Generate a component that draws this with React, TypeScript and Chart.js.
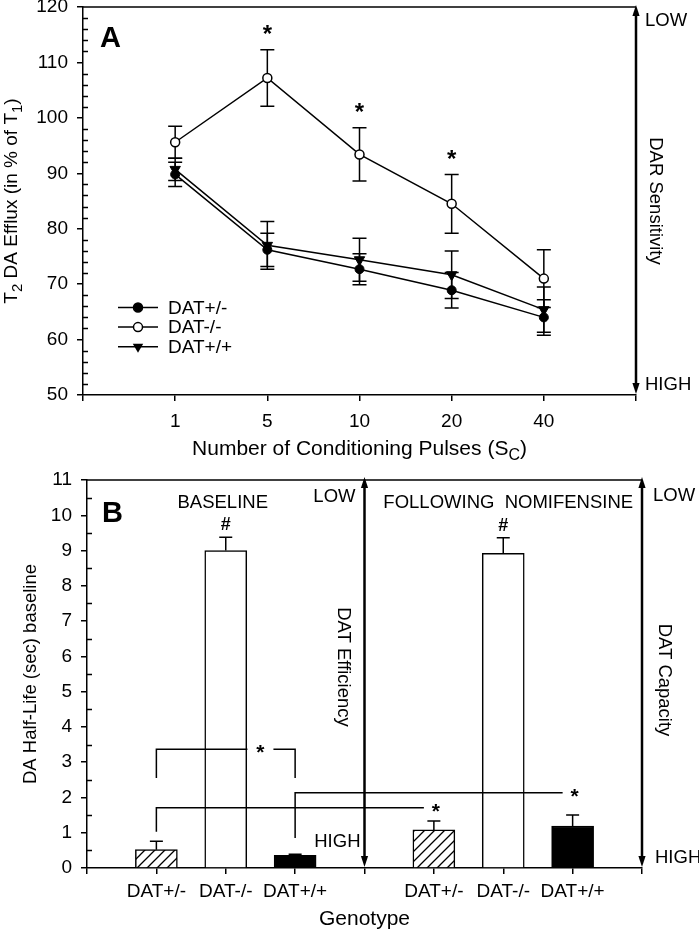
import React, { useEffect, useRef } from 'react';
import { Chart, registerables } from 'chart.js';

Chart.register(...registerables);

const FONT = '"Liberation Sans", Arial, Helvetica, sans-serif';
const INK = '#000000';

// ---------- Panel A data ----------
const pulseLabels = ['1', '5', '10', '20', '40'];
const seriesNames = ['DAT+/-', 'DAT-/-', 'DAT+/+'];
const hetMeans = [89.8, 76.2, 72.7, 68.9, 64.0];
const hetErr = [2.2, 3.0, 2.8, 3.2, 3.2];
const koMeans = [95.6, 107.2, 93.4, 84.5, 71.0];
const koErr = [2.9, 5.1, 4.8, 5.3, 5.2];
const wtMeans = [90.7, 77.0, 74.4, 71.7, 65.4];
const wtErr = [2.0, 4.3, 3.9, 4.3, 4.1];
const koSignificant = [false, true, true, true, false];
const yMinA = 50;
const yMaxA = 120;
const yStepA = 10;
const yMinorA = 2;

// ---------- Panel B data ----------
const genotypes = ['DAT+/-', 'DAT-/-', 'DAT+/+'];
const baselineMeans = [0.52, 9.0, 0.36];
const baselineErr = [0.24, 0.38, 0.03];
const nomifensineMeans = [1.08, 8.92, 1.19];
const nomifensineErr = [0.25, 0.44, 0.31];
const knockoutMarked = [false, true, false];
const yMinB = 0;
const yMaxB = 11;
const yStepB = 1;
const yMinorB = 0.5;
// significance brackets (slot indices on the genotype axis, values in sec)
const bracketFrom = [1, 1, 3];
const bracketTo = [3, 5, 7];
const bracketLegLow = [2.55, 1.03, 0.85];
const bracketLevel = [3.37, 1.71, 2.13];
const bracketStar = [2.5, 5, 7];
const bracketRightLeg = [true, false, false];

const slotLabels = ['', ...genotypes, '', ...genotypes, ''];
const slotMeans = [null, ...baselineMeans, null, ...nomifensineMeans, null];
const slotErr = [null, ...baselineErr, null, ...nomifensineErr, null];
const slotMarked = [false, ...knockoutMarked, false, ...knockoutMarked, false];

Chart.defaults.font.family = FONT;
Chart.defaults.color = INK;

const TICK_SIZE = 19;
const LABEL_SIZE = 18.5;

type Part = { t: string; sub?: boolean };

function drawRich(
  ctx: CanvasRenderingContext2D,
  parts: Part[],
  x: number,
  y: number,
  size: number,
  align: 'left' | 'center' | 'right' = 'left',
  rotate = 0,
  bold = false
) {
  ctx.save();
  ctx.translate(x, y);
  ctx.rotate(rotate);
  ctx.fillStyle = INK;
  ctx.textBaseline = 'alphabetic';
  ctx.textAlign = 'left';
  const fontFor = (p: Part) =>
    `${bold ? 'bold ' : ''}${p.sub ? Math.round(size * 0.78) : size}px ${FONT}`;
  let total = 0;
  const widths = parts.map((p) => {
    ctx.font = fontFor(p);
    const w = ctx.measureText(p.t).width;
    total += w;
    return w;
  });
  let cx = align === 'center' ? -total / 2 : align === 'right' ? -total : 0;
  parts.forEach((p, i) => {
    ctx.font = fontFor(p);
    ctx.fillText(p.t, cx, p.sub ? size * 0.24 : 0);
    cx += widths[i];
  });
  ctx.restore();
}

function drawCenteredGlyph(ctx: CanvasRenderingContext2D, ch: string, x: number, yc: number, font: string) {
  ctx.save();
  ctx.font = font;
  ctx.fillStyle = INK;
  ctx.textAlign = 'center';
  ctx.textBaseline = 'alphabetic';
  const m = ctx.measureText(ch);
  const base = yc + (m.actualBoundingBoxAscent - m.actualBoundingBoxDescent) / 2;
  ctx.fillText(ch, x, base);
  ctx.restore();
}

function drawArrow(ctx: CanvasRenderingContext2D, x: number, top: number, bottom: number) {
  const head = 11;
  const half = 3.6;
  ctx.save();
  ctx.strokeStyle = INK;
  ctx.fillStyle = INK;
  ctx.lineWidth = 2.5;
  ctx.beginPath();
  ctx.moveTo(x, top + head - 1);
  ctx.lineTo(x, bottom - head + 1);
  ctx.stroke();
  ctx.beginPath();
  ctx.moveTo(x, top);
  ctx.lineTo(x - half, top + head);
  ctx.lineTo(x + half, top + head);
  ctx.closePath();
  ctx.fill();
  ctx.beginPath();
  ctx.moveTo(x, bottom);
  ctx.lineTo(x - half, bottom - head);
  ctx.lineTo(x + half, bottom - head);
  ctx.closePath();
  ctx.fill();
  ctx.restore();
}

function drawMinorTicks(chart: any, min: number, max: number, minor: number, major: number) {
  const { ctx, chartArea, scales } = chart;
  ctx.save();
  ctx.strokeStyle = INK;
  ctx.lineWidth = 1.5;
  ctx.beginPath();
  const n = Math.round((max - min) / minor);
  for (let k = 0; k <= n; k++) {
    const v = min + k * minor;
    const r = (v - min) / major;
    if (Math.abs(r - Math.round(r)) < 1e-6) continue;
    const py = Math.round(scales.y.getPixelForValue(v)) + 0.5;
    ctx.moveTo(chartArea.left, py);
    ctx.lineTo(chartArea.left + 5, py);
  }
  ctx.stroke();
  ctx.restore();
}

function drawTopFrame(chart: any) {
  const { ctx, chartArea } = chart;
  ctx.save();
  ctx.strokeStyle = INK;
  ctx.lineWidth = 1.5;
  ctx.beginPath();
  ctx.moveTo(chartArea.left, chartArea.top);
  ctx.lineTo(chartArea.right, chartArea.top);
  ctx.stroke();
  ctx.restore();
}

const axisCommon = {
  grid: { drawOnChartArea: false, drawTicks: true, tickLength: 6, color: INK, lineWidth: 1.5 },
  border: { display: true, color: INK, width: 1.5 },
};

function configA(): any {
  const pointsOf = (arr: number[]) => arr.map((y, i) => ({ x: i + 1, y }));
  const panelA = {
    id: 'panelA',
    beforeDatasetsDraw(chart: any) {
      const { ctx, scales } = chart;
      const { x, y } = scales;
      ctx.save();
      ctx.strokeStyle = INK;
      ctx.lineWidth = 1.5;
      const series: [number[], number[]][] = [
        [hetMeans, hetErr],
        [koMeans, koErr],
        [wtMeans, wtErr],
      ];
      series.forEach(([m, e]) =>
        m.forEach((v, i) => {
          const px = x.getPixelForValue(i + 1);
          const t = y.getPixelForValue(v + e[i]);
          const b = y.getPixelForValue(v - e[i]);
          ctx.beginPath();
          ctx.moveTo(px, t);
          ctx.lineTo(px, b);
          ctx.moveTo(px - 7, t);
          ctx.lineTo(px + 7, t);
          ctx.moveTo(px - 7, b);
          ctx.lineTo(px + 7, b);
          ctx.stroke();
        })
      );
      ctx.restore();
    },
    afterDraw(chart: any) {
      const { ctx, chartArea, scales } = chart;
      const { x, y } = scales;
      drawTopFrame(chart);
      drawMinorTicks(chart, yMinA, yMaxA, yMinorA, yStepA);
      drawArrow(ctx, chartArea.right, chartArea.top - 2, chartArea.bottom - 1);

      // significance stars
      koSignificant.forEach((s, i) => {
        if (!s) return;
        const px = x.getPixelForValue(i + 1);
        const yc = y.getPixelForValue(koMeans[i] + koErr[i]) - 20;
        drawCenteredGlyph(ctx, '*', px, yc, `bold 24px ${FONT}`);
      });

      // panel letter and side labels
      drawRich(ctx, [{ t: 'A' }], chartArea.left + 17, chartArea.top + 40, 29, 'left', 0, true);
      drawRich(ctx, [{ t: 'LOW' }], chartArea.right + 9, chartArea.top + 19, LABEL_SIZE);
      drawRich(ctx, [{ t: 'HIGH' }], chartArea.right + 9, chartArea.bottom - 5, LABEL_SIZE);
      drawRich(
        ctx,
        [{ t: 'DAR Sensitivity' }],
        chartArea.right + 14,
        (chartArea.top + chartArea.bottom) / 2,
        LABEL_SIZE,
        'center',
        Math.PI / 2
      );

      // axis titles
      drawRich(
        ctx,
        [{ t: 'Number of Conditioning Pulses (S' }, { t: 'C', sub: true }, { t: ')' }],
        (chartArea.left + chartArea.right) / 2,
        chartArea.bottom + 60,
        21,
        'center'
      );
      drawRich(
        ctx,
        [{ t: 'T' }, { t: '2', sub: true }, { t: ' DA Efflux (in % of T' }, { t: '1', sub: true }, { t: ')' }],
        17,
        (chartArea.top + chartArea.bottom) / 2,
        19,
        'center',
        -Math.PI / 2
      );

      // legend
      const lx0 = 118;
      const lx1 = 158;
      const ltx = 168;
      const ly0 = 307.5;
      const ldy = 19.6;
      ctx.save();
      ctx.strokeStyle = INK;
      ctx.lineWidth = 1.5;
      seriesNames.forEach((name, i) => {
        const ly = ly0 + i * ldy;
        const mx = (lx0 + lx1) / 2;
        ctx.beginPath();
        ctx.moveTo(lx0, ly);
        ctx.lineTo(lx1, ly);
        ctx.stroke();
        ctx.beginPath();
        if (i === 2) {
          const r = 6;
          ctx.moveTo(mx, ly + r);
          ctx.lineTo(mx - r * 0.866, ly - r / 2);
          ctx.lineTo(mx + r * 0.866, ly - r / 2);
          ctx.closePath();
          ctx.fillStyle = INK;
          ctx.fill();
        } else {
          ctx.arc(mx, ly, 4.5, 0, Math.PI * 2);
          ctx.fillStyle = i === 1 ? '#ffffff' : INK;
          ctx.fill();
          ctx.stroke();
        }
        ctx.font = `${TICK_SIZE}px ${FONT}`;
        ctx.fillStyle = INK;
        ctx.textAlign = 'left';
        ctx.textBaseline = 'middle';
        ctx.fillText(name, ltx, ly + 1);
      });
      ctx.restore();
    },
  };

  return {
    type: 'line',
    data: {
      datasets: [
        {
          label: seriesNames[0],
          data: pointsOf(hetMeans),
          borderColor: INK,
          borderWidth: 1.5,
          pointStyle: 'circle',
          pointRadius: 4.5,
          pointBackgroundColor: INK,
          pointBorderColor: INK,
          pointBorderWidth: 1,
          fill: false,
          tension: 0,
        },
        {
          label: seriesNames[1],
          data: pointsOf(koMeans),
          borderColor: INK,
          borderWidth: 1.5,
          pointStyle: 'circle',
          pointRadius: 4.5,
          pointBackgroundColor: '#ffffff',
          pointBorderColor: INK,
          pointBorderWidth: 1.5,
          fill: false,
          tension: 0,
        },
        {
          label: seriesNames[2],
          data: pointsOf(wtMeans),
          borderColor: INK,
          borderWidth: 1.5,
          pointStyle: 'triangle',
          pointRotation: 180,
          pointRadius: 6,
          pointBackgroundColor: INK,
          pointBorderColor: INK,
          pointBorderWidth: 1,
          fill: false,
          tension: 0,
        },
      ],
    },
    options: {
      responsive: false,
      animation: false,
      devicePixelRatio: 1,
      layout: { padding: { left: 0, top: 7, right: 63, bottom: 0 } },
      plugins: { legend: { display: false }, tooltip: { enabled: false } },
      scales: {
        x: {
          type: 'linear',
          min: 0,
          max: pulseLabels.length + 1,
          ...axisCommon,
          ticks: {
            stepSize: 1,
            autoSkip: false,
            maxRotation: 0,
            padding: 9,
            color: INK,
            font: { family: FONT, size: TICK_SIZE },
            callback: (v: number) => pulseLabels[v - 1] ?? '',
          },
          afterFit(s: any) {
            s.height = 70;
            s.paddingLeft = 0;
            s.paddingRight = 0;
          },
        },
        y: {
          type: 'linear',
          min: yMinA,
          max: yMaxA,
          ...axisCommon,
          ticks: {
            stepSize: yStepA,
            padding: 9,
            color: INK,
            font: { family: FONT, size: TICK_SIZE },
          },
          afterFit(s: any) {
            s.width = 83;
            s.paddingTop = 0;
            s.paddingBottom = 0;
          },
        },
      },
    },
    plugins: [panelA],
  };
}

function makeHatch(): CanvasPattern | string {
  const c = document.createElement('canvas');
  c.width = 10;
  c.height = 10;
  const g = c.getContext('2d');
  if (!g) return '#ffffff';
  g.fillStyle = '#ffffff';
  g.fillRect(0, 0, 10, 10);
  g.strokeStyle = INK;
  g.lineWidth = 1.3;
  g.beginPath();
  g.moveTo(-1, 11);
  g.lineTo(11, -1);
  g.moveTo(-1, 1);
  g.lineTo(1, -1);
  g.moveTo(9, 11);
  g.lineTo(11, 9);
  g.stroke();
  return g.createPattern(c, 'repeat') || '#ffffff';
}

function configB(): any {
  const hatch = makeHatch();
  const fills = slotLabels.map((_, i) => {
    const k = (i - 1) % 4;
    if (k === 0) return hatch;
    if (k === 1) return '#ffffff';
    return INK;
  });

  const panelB = {
    id: 'panelB',
    afterDatasetsDraw(chart: any) {
      const { ctx, scales } = chart;
      const { x, y } = scales;
      ctx.save();
      ctx.strokeStyle = INK;
      ctx.lineWidth = 1.5;
      // error bars (upward only)
      slotMeans.forEach((m, i) => {
        if (m === null) return;
        const e = slotErr[i] as number;
        const px = x.getPixelForValue(i);
        const b = y.getPixelForValue(m);
        const t = y.getPixelForValue(m + e);
        ctx.beginPath();
        ctx.moveTo(px, b);
        ctx.lineTo(px, t);
        ctx.moveTo(px - 6.5, t);
        ctx.lineTo(px + 6.5, t);
        ctx.stroke();
        if (slotMarked[i]) {
          ctx.save();
          ctx.font = `bold 18px ${FONT}`;
          ctx.fillStyle = INK;
          ctx.textAlign = 'center';
          ctx.textBaseline = 'alphabetic';
          ctx.fillText('#', px, t - 7);
          ctx.restore();
        }
      });
      // significance brackets
      bracketFrom.forEach((from, k) => {
        const x0 = x.getPixelForValue(from);
        const x1 = x.getPixelForValue(bracketTo[k]);
        const xs = x.getPixelForValue(bracketStar[k]);
        const yl = y.getPixelForValue(bracketLevel[k]);
        const yLeg = y.getPixelForValue(bracketLegLow[k]);
        ctx.beginPath();
        ctx.moveTo(x0, yLeg);
        ctx.lineTo(x0, yl);
        if (bracketRightLeg[k]) {
          ctx.lineTo(xs - 13, yl);
          ctx.moveTo(xs + 13, yl);
          ctx.lineTo(x1, yl);
          ctx.lineTo(x1, yLeg);
        } else {
          ctx.lineTo(xs - 10, yl);
        }
        ctx.stroke();
        drawCenteredGlyph(ctx, '*', xs + (bracketRightLeg[k] ? 0 : 2), yl, `bold 21px ${FONT}`);
      });
      ctx.restore();
    },
    afterDraw(chart: any) {
      const { ctx, chartArea, scales } = chart;
      const { x } = scales;
      drawTopFrame(chart);
      drawMinorTicks(chart, yMinB, yMaxB, yMinorB, yStepB);
      const mid = x.getPixelForValue(4);
      drawArrow(ctx, mid, chartArea.top - 3, chartArea.bottom - 1);
      drawArrow(ctx, chartArea.right, chartArea.top - 3, chartArea.bottom - 1);

      drawRich(ctx, [{ t: 'B' }], chartArea.left + 15, chartArea.top + 42, 29, 'left', 0, true);
      drawRich(ctx, [{ t: 'BASELINE' }], x.getPixelForValue(2) - 3, chartArea.top + 28, LABEL_SIZE, 'center');
      drawRich(ctx, [{ t: 'FOLLOWING  NOMIFENSINE' }], x.getPixelForValue(6) + 5, chartArea.top + 28, LABEL_SIZE, 'center');
      drawRich(ctx, [{ t: 'LOW' }], mid - 9, chartArea.top + 22, LABEL_SIZE, 'right');
      drawRich(ctx, [{ t: 'LOW' }], chartArea.right + 11, chartArea.top + 21, LABEL_SIZE, 'left');
      drawRich(ctx, [{ t: 'HIGH' }], mid - 4, chartArea.bottom - 21, LABEL_SIZE, 'right');
      drawRich(ctx, [{ t: 'HIGH' }], chartArea.right + 13, chartArea.bottom - 5, LABEL_SIZE, 'left');
      drawRich(ctx, [{ t: 'DAT Efficiency' }], mid - 27, 202, LABEL_SIZE, 'center', Math.PI / 2);
      drawRich(ctx, [{ t: 'DAT Capacity' }], chartArea.right + 17, 215, LABEL_SIZE, 'center', Math.PI / 2);

      drawRich(ctx, [{ t: 'Genotype' }], (chartArea.left + chartArea.right) / 2, chartArea.bottom + 57, 21, 'center');
      drawRich(
        ctx,
        [{ t: 'DA Half-Life (sec) baseline' }],
        36,
        (chartArea.top + chartArea.bottom) / 2,
        18.5,
        'center',
        -Math.PI / 2
      );
    },
  };

  return {
    type: 'bar',
    data: {
      labels: slotLabels,
      datasets: [
        {
          label: 'DA half-life',
          data: slotMeans,
          backgroundColor: fills,
          borderColor: INK,
          borderWidth: 1.5,
          barThickness: 42,
          skipNull: true,
        },
      ],
    },
    options: {
      responsive: false,
      animation: false,
      devicePixelRatio: 1,
      layout: { padding: { left: 0, top: 15, right: 57, bottom: 0 } },
      plugins: { legend: { display: false }, tooltip: { enabled: false } },
      scales: {
        x: {
          type: 'category',
          offset: false,
          ...axisCommon,
          grid: { ...axisCommon.grid, offset: false },
          ticks: {
            autoSkip: false,
            maxRotation: 0,
            padding: 6,
            color: INK,
            font: { family: FONT, size: TICK_SIZE },
          },
          afterFit(s: any) {
            s.height = 62;
            s.paddingLeft = 0;
            s.paddingRight = 0;
          },
        },
        y: {
          type: 'linear',
          min: yMinB,
          max: yMaxB,
          ...axisCommon,
          ticks: {
            stepSize: yStepB,
            padding: 9,
            color: INK,
            font: { family: FONT, size: TICK_SIZE },
          },
          afterFit(s: any) {
            s.width = 87;
            s.paddingTop = 0;
            s.paddingBottom = 0;
          },
        },
      },
    },
    plugins: [panelB],
  };
}

export default function App() {
  const refA = useRef<HTMLCanvasElement>(null);
  const refB = useRef<HTMLCanvasElement>(null);
  useEffect(() => {
    if (!refA.current || !refB.current) return;
    const a = new Chart(refA.current, configA());
    const b = new Chart(refB.current, configB());
    return () => {
      a.destroy();
      b.destroy();
    };
  }, []);
  return (
    <div style={{ position: 'absolute', left: 0, top: 0, width: 699, height: 930, background: '#ffffff' }}>
      <canvas
        ref={refA}
        width={699}
        height={465}
        style={{ position: 'absolute', left: 0, top: 0, width: 699, height: 465 }}
      />
      <canvas
        ref={refB}
        width={699}
        height={465}
        style={{ position: 'absolute', left: 0, top: 465, width: 699, height: 465 }}
      />
    </div>
  );
}
